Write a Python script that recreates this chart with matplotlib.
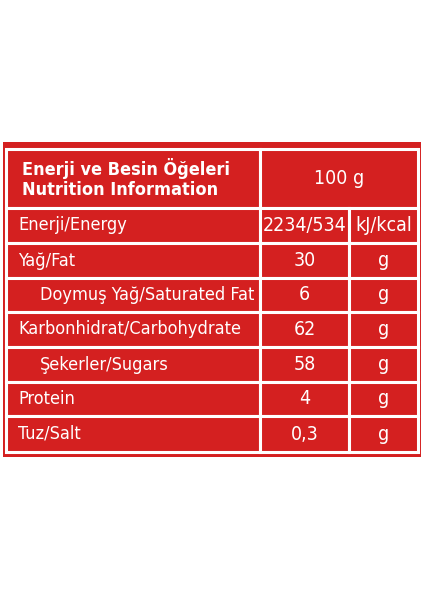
import matplotlib.pyplot as plt
from matplotlib.patches import Rectangle

RED = '#d42020'

labels = ['Enerji/Energy', 'Yağ/Fat', 'Doymuş Yağ/Saturated Fat', 'Karbonhidrat/Carbohydrate',
          'Şekerler/Sugars', 'Protein', 'Tuz/Salt']
values = ['2234/534', '30', '6', '62', '58', '4', '0,3']
units = ['kJ/kcal', 'g', 'g', 'g', 'g', 'g', 'g']
indented = [False, False, True, False, True, False, False]

plt.rcParams['font.family'] = ['DejaVu Sans']
plt.rcParams['font.stretch'] = 'condensed'

fig = plt.figure(figsize=(4.24, 6), dpi=100)
ax = fig.add_axes([0, 0, 1, 1])
ax.set_xlim(0, 424)
ax.set_ylim(600, 0)
ax.axis('off')

# outer red panel
ax.add_patch(Rectangle((3, 142), 418, 315, facecolor=RED, edgecolor='none'))

cols = [6, 260, 349, 418]
rows = [149, 208, 243, 278, 312, 347, 382, 416, 452]
fs = 13

def cell(x0, x1, y0, y1):
    ax.add_patch(Rectangle((x0, y0), x1 - x0, y1 - y0, facecolor=RED,
                           edgecolor='white', lw=2.2))

# header
cell(cols[0], cols[1], rows[0], rows[1])
cell(cols[1], cols[3], rows[0], rows[1])
ax.text(22, (rows[0] + rows[1]) / 2, 'Enerji ve Besin Öğeleri\nNutrition Information',
        color='white', fontsize=fs, fontweight='bold', va='center', ha='left', linespacing=1.1)
ax.text((cols[1] + cols[3]) / 2, (rows[0] + rows[1]) / 2, '100 g', color='white',
        fontsize=14, va='center', ha='center')

for i, (lab, val, un, ind) in enumerate(zip(labels, values, units, indented)):
    y0, y1 = rows[i + 1], rows[i + 2]
    yc = (y0 + y1) / 2
    cell(cols[0], cols[1], y0, y1)
    cell(cols[1], cols[2], y0, y1)
    cell(cols[2], cols[3], y0, y1)
    ax.text(40 if ind else 18, yc, lab, color='white', fontsize=fs, va='center', ha='left')
    ax.text((cols[1] + cols[2]) / 2, yc, val, color='white', fontsize=14, va='center', ha='center')
    ax.text((cols[2] + cols[3]) / 2, yc, un, color='white', fontsize=14, va='center', ha='center')

fig.savefig('out.png', dpi=100, facecolor='white')
